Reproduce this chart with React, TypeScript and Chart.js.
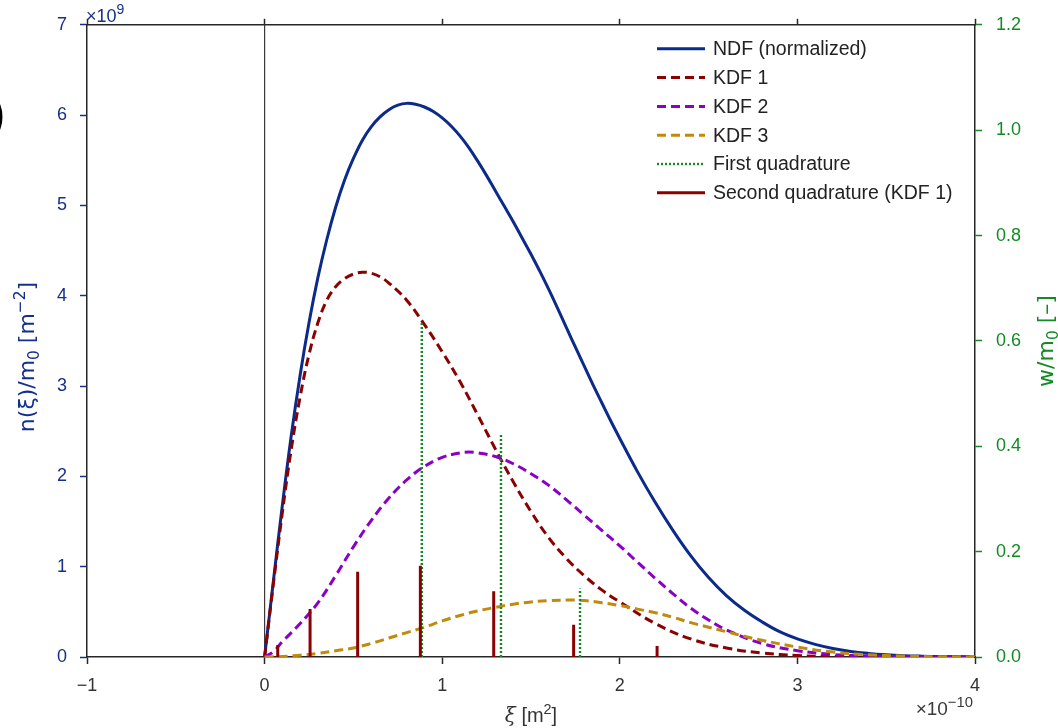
import React, { useEffect, useRef } from 'react';
import { Chart, registerables } from 'chart.js';

Chart.register(...registerables);

// ---------- data (x in units of 1e-10 m^2, n in units of 1e9 m^-2) ----------
const NDF_X = [0, 0.05, 0.1, 0.15, 0.2, 0.25, 0.3, 0.35, 0.4, 0.45, 0.5, 0.55, 0.6, 0.65, 0.7, 0.75, 0.8, 0.85, 0.9, 0.95, 1.0, 1.05, 1.1, 1.15, 1.2, 1.25, 1.3, 1.35, 1.4, 1.45, 1.5, 1.55, 1.6, 1.65, 1.7, 1.75, 1.8, 1.85, 1.9, 1.95, 2.0, 2.1, 2.2, 2.3, 2.4, 2.5, 2.6, 2.7, 2.8, 2.9, 3.0, 3.1, 3.2, 3.3, 3.4, 3.5, 3.6, 3.7, 3.8, 3.9, 4.0];
const NDF_Y = [0, 0.85, 1.68, 2.45, 3.12, 3.7, 4.2, 4.62, 4.98, 5.28, 5.52, 5.72, 5.87, 5.98, 6.06, 6.11, 6.13, 6.12, 6.09, 6.04, 5.97, 5.88, 5.77, 5.64, 5.49, 5.33, 5.16, 4.99, 4.82, 4.64, 4.46, 4.27, 4.07, 3.86, 3.645, 3.43, 3.22, 3.01, 2.81, 2.61, 2.42, 2.05, 1.71, 1.4, 1.12, 0.88, 0.68, 0.52, 0.39, 0.28, 0.2, 0.14, 0.095, 0.062, 0.04, 0.025, 0.015, 0.009, 0.005, 0.002, 0.001];

const KDF1_X = [0, 0.05, 0.1, 0.15, 0.2, 0.25, 0.3, 0.35, 0.4, 0.45, 0.5, 0.55, 0.6, 0.65, 0.7, 0.8, 0.9, 1.0, 1.1, 1.2, 1.3, 1.4, 1.5, 1.6, 1.7, 1.8, 1.9, 2.0, 2.2, 2.4, 2.6, 2.8, 3.0, 3.2, 3.5, 4.0];
const KDF1_Y = [0, 0.82, 1.6, 2.3, 2.88, 3.35, 3.7, 3.95, 4.1, 4.19, 4.24, 4.26, 4.25, 4.21, 4.14, 3.95, 3.68, 3.38, 3.05, 2.68, 2.3, 1.94, 1.61, 1.32, 1.09, 0.9, 0.74, 0.61, 0.37, 0.2, 0.1, 0.045, 0.016, 0.005, 0.001, 0];

const KDF2_X = [0, 0.05, 0.1, 0.2, 0.3, 0.4, 0.5, 0.6, 0.7, 0.8, 0.9, 1.0, 1.1, 1.15, 1.2, 1.3, 1.4, 1.5, 1.6, 1.7, 1.8, 1.9, 2.0, 2.1, 2.2, 2.3, 2.4, 2.5, 2.6, 2.8, 3.0, 3.2, 3.4, 3.6, 4.0];
const KDF2_Y = [0, 0.06, 0.17, 0.37, 0.6, 0.9, 1.22, 1.51, 1.76, 1.96, 2.11, 2.21, 2.26, 2.27, 2.26, 2.22, 2.14, 2.03, 1.9, 1.74, 1.57, 1.4, 1.23, 1.05, 0.87, 0.7, 0.54, 0.41, 0.3, 0.15, 0.07, 0.028, 0.01, 0.003, 0];

const KDF3_X = [0, 0.1, 0.2, 0.3, 0.4, 0.5, 0.6, 0.7, 0.8, 0.9, 1.0, 1.1, 1.2, 1.3, 1.4, 1.5, 1.6, 1.7, 1.8, 1.9, 2.0, 2.1, 2.2, 2.3, 2.4, 2.5, 2.6, 2.7, 2.8, 3.0, 3.2, 3.4, 3.6, 3.8, 4.0];
const KDF3_Y = [0, 0.005, 0.02, 0.04, 0.07, 0.1, 0.15, 0.21, 0.27, 0.33, 0.4, 0.46, 0.51, 0.55, 0.585, 0.61, 0.625, 0.63, 0.625, 0.6, 0.57, 0.53, 0.49, 0.44, 0.38, 0.33, 0.28, 0.23, 0.185, 0.11, 0.055, 0.025, 0.01, 0.003, 0];

// quadrature nodes (x) and weights w/m0 (right axis)
const Q1_X = [0.885, 1.331, 1.776];
const Q1_W = [0.637, 0.425, 0.13];
const Q2_X = [0.074, 0.256, 0.524, 0.877, 1.29, 1.74, 2.21];
const Q2_W = [0.023, 0.091, 0.162, 0.173, 0.125, 0.061, 0.021];

const X_TICKS = [-1, 0, 1, 2, 3, 4];
const Y_LEFT_TICKS = [0, 1, 2, 3, 4, 5, 6, 7];
const Y_RIGHT_TICKS = [0, 0.2, 0.4, 0.6, 0.8, 1.0, 1.2];
const ZERO_LINE_X = 0;

const LEGEND_LABELS = ['NDF (normalized)', 'KDF 1', 'KDF 2', 'KDF 3', 'First quadrature', 'Second quadrature (KDF 1)'];

// ---------- styles ----------
const FONT = '"Liberation Sans", Arial, sans-serif';
const MATH = '"DejaVu Sans", sans-serif';
const SERIF = '"DejaVu Serif", "Liberation Serif", serif';
const BLUE = '#0c2a8a';
const DARKRED = '#8b0000';
const VIOLET = '#8a00c4';
const GOLD = '#c08a0c';
const GREEN = '#118a22';
const AXIS_BLUE = '#14308c';
const AXIS_GREEN = '#138a24';
const FRAME = '#262626';

const pts = (xs: number[], ys: number[]) => xs.map((x, i) => ({ x, y: ys[i] }));
const stems = (xs: number[], ws: number[]) => {
  const out: any[] = [];
  xs.forEach((x, i) => {
    out.push({ x, y: 0 }, { x, y: ws[i] }, { x, y: null });
  });
  return out;
};

type Seg = { t: string; s?: 'sup' | 'sub'; italic?: boolean; serif?: boolean };

function drawRich(ctx: CanvasRenderingContext2D, segs: Seg[], x: number, y: number, size: number, color: string, align: 'left' | 'center' | 'right', family = FONT, supScale = 0.7) {
  const fontFor = (seg: Seg) => {
    const sz = seg.s ? size * supScale : size;
    return `${seg.italic ? 'italic ' : ''}${sz}px ${seg.serif ? SERIF : family}`;
  };
  let total = 0;
  const widths = segs.map((seg) => {
    ctx.font = fontFor(seg);
    const w = ctx.measureText(seg.t).width;
    total += w;
    return w;
  });
  let cx = align === 'left' ? x : align === 'center' ? x - total / 2 : x - total;
  ctx.fillStyle = color;
  ctx.textBaseline = 'alphabetic';
  ctx.textAlign = 'left';
  segs.forEach((seg, i) => {
    ctx.font = fontFor(seg);
    const dy = seg.s === 'sup' ? -size * 0.42 : seg.s === 'sub' ? size * 0.22 : 0;
    ctx.fillText(seg.t, cx, y + dy);
    cx += widths[i];
  });
}

const decorPlugin = {
  id: 'decor',
  beforeDatasetsDraw(chart: any) {
    const { ctx, chartArea, scales } = chart;
    const px = scales.x.getPixelForValue(ZERO_LINE_X);
    ctx.save();
    ctx.strokeStyle = '#3a3a3a';
    ctx.lineWidth = 1.2;
    ctx.beginPath();
    ctx.moveTo(px, chartArea.top);
    ctx.lineTo(px, chartArea.bottom);
    ctx.stroke();
    ctx.restore();
  },
  afterDraw(chart: any) {
    const { ctx, chartArea } = chart;
    ctx.save();
    // legend
    const y0 = chartArea.top + 24;
    const step = 28.8;
    const sx0 = chartArea.right - 318;
    const sx1 = chartArea.right - 270;
    const tx = chartArea.right - 262;
    LEGEND_LABELS.forEach((label, i) => {
      const ds = chart.data.datasets.find((d: any) => d.label === label);
      const y = y0 + i * step;
      ctx.save();
      ctx.strokeStyle = ds.borderColor;
      ctx.lineWidth = ds.borderWidth;
      ctx.setLineDash(ds.borderDash || []);
      ctx.beginPath();
      ctx.moveTo(sx0, y);
      ctx.lineTo(sx1, y);
      ctx.stroke();
      ctx.restore();
      ctx.fillStyle = '#222';
      ctx.font = `19.5px ${FONT}`;
      ctx.textBaseline = 'middle';
      ctx.textAlign = 'left';
      ctx.fillText(label, tx, y + 1);
    });

    // exponents
    drawRich(ctx, [{ t: '×10' }, { t: '9', s: 'sup' }], chartArea.left - 1, chartArea.top - 3, 18, AXIS_BLUE, 'left', FONT, 0.78);
    drawRich(ctx, [{ t: '×10' }, { t: '−10', s: 'sup' }], chartArea.right - 2, 715, 19, '#3a3a3a', 'right', FONT, 0.78);

    // x title
    drawRich(ctx, [{ t: 'ξ', italic: true, serif: true }, { t: ' [m' }, { t: '2', s: 'sup' }, { t: ']' }], 531, 722, 20, '#333', 'center', FONT, 0.72);

    // left title
    ctx.save();
    ctx.translate(27, 357);
    ctx.rotate(-Math.PI / 2);
    drawRich(ctx, [{ t: 'n(ξ)/m' }, { t: '0', s: 'sub' }, { t: ' [m' }, { t: '−2', s: 'sup' }, { t: ']' }], 0, 7, 22, AXIS_BLUE, 'center', MATH);
    ctx.restore();

    // right title
    ctx.save();
    ctx.translate(1046, 341);
    ctx.rotate(-Math.PI / 2);
    drawRich(ctx, [{ t: 'w/m' }, { t: '0', s: 'sub' }, { t: ' [–]' }], 0, 7, 22, AXIS_GREEN, 'center', MATH);
    ctx.restore();

    ctx.restore();
  },
};

export default function App() {
  const canvasRef = useRef<HTMLCanvasElement | null>(null);

  useEffect(() => {
    if (!canvasRef.current) return;
    const tickFont = { family: FONT, size: 18 };
    const curve = { pointRadius: 0, borderWidth: 3, tension: 0.4, yAxisID: 'y' };
    const chart = new Chart(canvasRef.current, {
      type: 'line',
      data: {
        datasets: [
          {
            label: 'Second quadrature (KDF 1)',
            data: stems(Q2_X, Q2_W),
            yAxisID: 'y1',
            borderColor: DARKRED,
            borderWidth: 3,
            pointRadius: 0,
            spanGaps: false,
          },
          {
            label: 'First quadrature',
            data: stems(Q1_X, Q1_W),
            yAxisID: 'y1',
            borderColor: GREEN,
            borderWidth: 2.4,
            borderDash: [2, 2],
            pointRadius: 0,
            spanGaps: false,
          },
          { ...curve, label: 'KDF 3', data: pts(KDF3_X, KDF3_Y), borderColor: GOLD, borderDash: [9, 5] },
          { ...curve, label: 'KDF 2', data: pts(KDF2_X, KDF2_Y), borderColor: VIOLET, borderDash: [9, 5] },
          { ...curve, label: 'KDF 1', data: pts(KDF1_X, KDF1_Y), borderColor: DARKRED, borderDash: [9, 5] },
          { ...curve, label: 'NDF (normalized)', data: pts(NDF_X, NDF_Y), borderColor: BLUE },
        ] as any,
      },
      options: {
        animation: false,
        responsive: true,
        maintainAspectRatio: false,
        layout: { padding: 0 },
        plugins: { legend: { display: false }, tooltip: { enabled: false } },
        scales: {
          x: {
            type: 'linear',
            position: 'bottom',
            min: X_TICKS[0],
            max: X_TICKS[X_TICKS.length - 1],
            afterBuildTicks: (s: any) => { s.ticks = X_TICKS.map((v) => ({ value: v })); },
            afterFit: (s: any) => { s.height = 71; },
            ticks: {
              font: tickFont,
              color: '#333',
              padding: 11,
              callback: (v: any) => (v < 0 ? '−' + Math.abs(v) : String(v)),
            },
            grid: { display: true, drawOnChartArea: false, drawTicks: true, tickLength: 7, tickColor: FRAME, tickWidth: 1.5 },
            border: { display: true, color: FRAME, width: 1.5 },
          },
          xTop: {
            type: 'linear',
            position: 'top',
            min: X_TICKS[0],
            max: X_TICKS[X_TICKS.length - 1],
            afterBuildTicks: (s: any) => { s.ticks = X_TICKS.map((v) => ({ value: v })); },
            afterFit: (s: any) => { s.height = 24; },
            ticks: { display: false },
            grid: { display: true, drawOnChartArea: false, drawTicks: true, tickLength: 6, tickColor: FRAME, tickWidth: 1.5 },
            border: { display: true, color: FRAME, width: 1.5 },
          },
          y: {
            type: 'linear',
            position: 'left',
            min: Y_LEFT_TICKS[0],
            max: Y_LEFT_TICKS[Y_LEFT_TICKS.length - 1],
            afterBuildTicks: (s: any) => { s.ticks = Y_LEFT_TICKS.map((v) => ({ value: v })); },
            afterFit: (s: any) => { s.width = 87; },
            ticks: { font: tickFont, color: AXIS_BLUE, padding: 13, callback: (v: any) => String(v) },
            grid: { display: true, drawOnChartArea: false, drawTicks: true, tickLength: 7, tickColor: AXIS_BLUE, tickWidth: 1.5 },
            border: { display: true, color: FRAME, width: 1.5 },
          },
          y1: {
            type: 'linear',
            position: 'right',
            min: Y_RIGHT_TICKS[0],
            max: Y_RIGHT_TICKS[Y_RIGHT_TICKS.length - 1],
            afterBuildTicks: (s: any) => { s.ticks = Y_RIGHT_TICKS.map((v) => ({ value: v })); },
            afterFit: (s: any) => { s.width = 83; },
            ticks: { font: tickFont, color: AXIS_GREEN, padding: 14, callback: (v: any) => Number(v).toFixed(1) },
            grid: { display: true, drawOnChartArea: false, drawTicks: true, tickLength: 7, tickColor: AXIS_GREEN, tickWidth: 1.5 },
            border: { display: true, color: FRAME, width: 1.5 },
          },
        },
      } as any,
      plugins: [decorPlugin],
    });
    return () => chart.destroy();
  }, []);

  return (
    <div style={{ position: 'fixed', left: 0, top: 0, width: 1058, height: 728, background: '#fff', overflow: 'hidden' }}>
      <canvas ref={canvasRef} />
      <span
        style={{
          position: 'absolute',
          left: -10,
          top: 90,
          fontFamily: FONT,
          fontSize: 46,
          lineHeight: 1,
          color: '#000',
        }}
      >
        )
      </span>
    </div>
  );
}
